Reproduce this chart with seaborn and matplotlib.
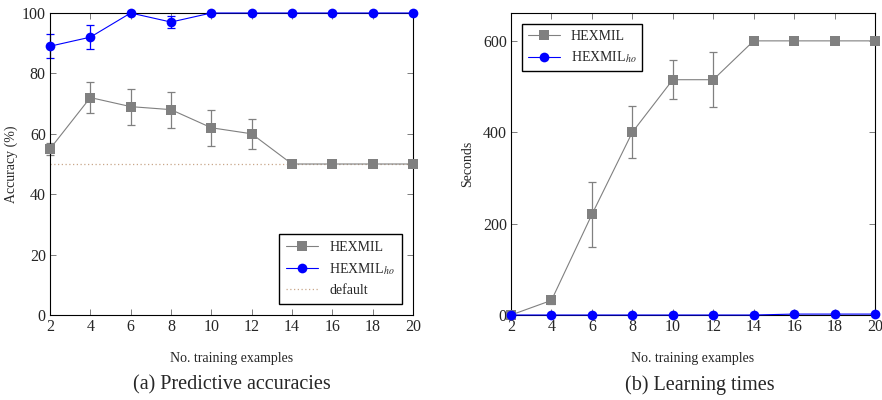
import numpy as np
import pandas as pd
import matplotlib
matplotlib.use("Agg")
import matplotlib.pyplot as plt
import seaborn as sns

sns.set_theme(style="ticks")
plt.rcParams["font.family"] = ["Liberation Serif", "DejaVu Serif"]
plt.rcParams["mathtext.fontset"] = "stix"

# ── data ──
n_examples = [2, 4, 6, 8, 10, 12, 14, 16, 18, 20]

acc_hexmil = [55, 72, 69, 68, 62, 60, 50, 50, 50, 50]
acc_hexmil_err = [2, 5, 6, 6, 6, 5, 0, 0, 0, 0]
acc_ho = [89, 92, 100, 97, 100, 100, 100, 100, 100, 100]
acc_ho_err = [4, 4, 0, 2, 0, 0, 0, 0, 0, 0]
acc_default = [50] * 10

time_hexmil = [0, 32, 220, 400, 515, 515, 600, 600, 600, 600]
time_hexmil_err = [0, 8, 72, 57, 43, 60, 0, 0, 0, 0]
time_ho = [0, 0, 0, 0, 0, 0, 0, 2, 2, 2]
time_ho_err = [0, 0, 0, 0, 0, 0, 0, 0, 0, 0]

GRAY = "#808080"
BLUE = "#0000ff"
TAN = "#c8a78a"
HO_LABEL = r"HEXMIL$_{ho}$"

fig = plt.figure(figsize=(8.82, 4.0), dpi=100)
ax1 = fig.add_axes([50 / 882, 85 / 400, 363 / 882, 302 / 400])
ax2 = fig.add_axes([511 / 882, 85 / 400, 364 / 882, 302 / 400])


def draw_series(ax, y, err, color, marker, label):
    df = pd.DataFrame({"x": n_examples, "y": y})
    ax.errorbar(n_examples, y, yerr=err, fmt="none", ecolor=color,
                elinewidth=0.9, capsize=3, capthick=0.9, zorder=2,
                clip_on=False)
    sns.lineplot(data=df, x="x", y="y", ax=ax, color=color, marker=marker,
                 markersize=7, markeredgewidth=0, linewidth=0.8,
                 label=label, zorder=3, clip_on=False)


# ── (a) accuracies ──
draw_series(ax1, acc_hexmil, acc_hexmil_err, GRAY, "s", "HEXMIL")
draw_series(ax1, acc_ho, acc_ho_err, BLUE, "o", HO_LABEL)
ax1.plot(n_examples, acc_default, linestyle=(0, (1, 2)), color=TAN,
         linewidth=0.9, label="default", zorder=1)
ax1.set_xlim(2, 20)
ax1.set_ylim(0, 100)
ax1.set_yticks([0, 20, 40, 60, 80, 100])
ax1.set_ylabel("Accuracy (%)", fontsize=10, labelpad=3)
ax1.legend(loc="lower right", fontsize=10, frameon=True, fancybox=False,
           edgecolor="black", framealpha=1, borderpad=0.5, handlelength=2.3,
           borderaxespad=0.8)

# ── (b) learning times ──
draw_series(ax2, time_hexmil, time_hexmil_err, GRAY, "s", "HEXMIL")
draw_series(ax2, time_ho, time_ho_err, BLUE, "o", HO_LABEL)
ax2.set_xlim(2, 20)
ax2.set_ylim(0, 661)
ax2.set_yticks([0, 200, 400, 600])
ax2.set_ylabel("Seconds", fontsize=10, labelpad=6)
ax2.legend(loc="upper left", fontsize=10, frameon=True, fancybox=False,
           edgecolor="black", framealpha=1, borderpad=0.4, handlelength=2.3,
           borderaxespad=0.8)

for ax in (ax1, ax2):
    ax.set_xticks(n_examples)
    ax.set_xlabel("No. training examples", fontsize=10, labelpad=12)
    ax.tick_params(direction="in", top=True, right=True, length=4,
                   width=0.6, color="#666666", labelsize=11.5, pad=3)
    for s in ax.spines.values():
        s.set_linewidth(0.8)
        s.set_color("black")

fig.text(232 / 882, 1 - 385 / 400, "(a) Predictive accuracies",
         ha="center", va="center", fontsize=14.5)
fig.text(700 / 882, 1 - 385 / 400, "(b) Learning times",
         ha="center", va="center", fontsize=14.5)

fig.savefig("out.png", dpi=100)
